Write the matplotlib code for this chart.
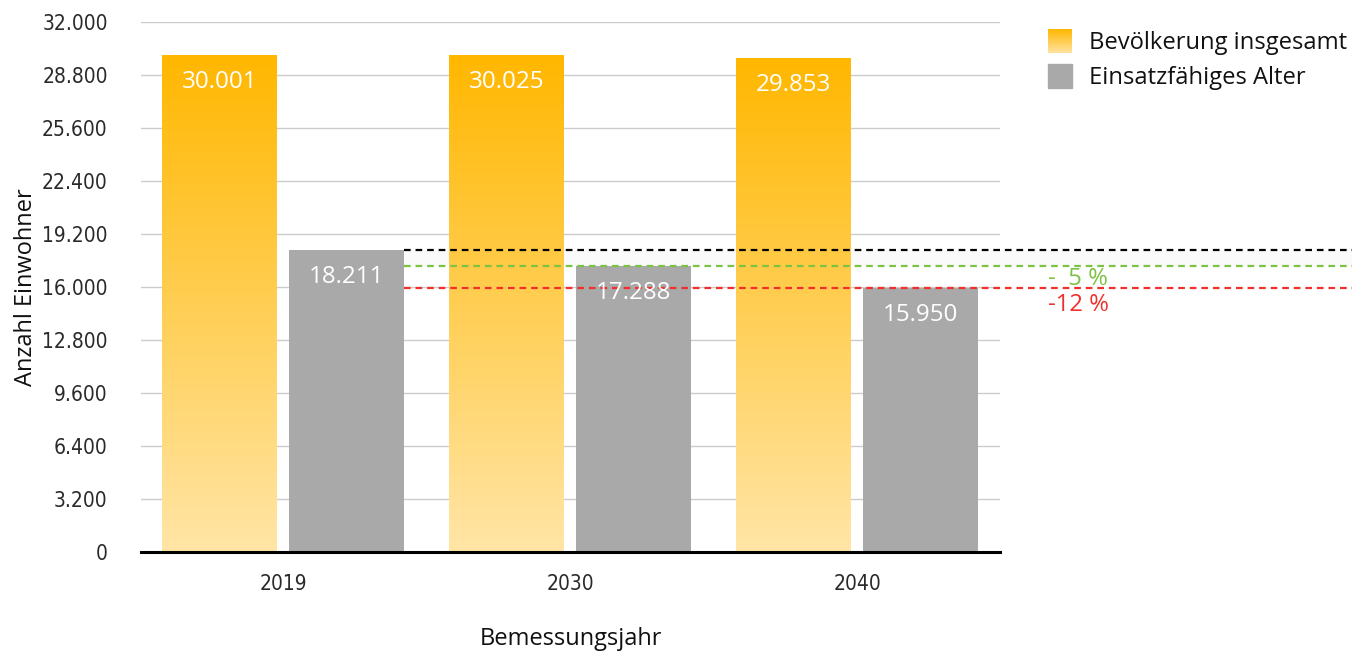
import numpy as np
import matplotlib
matplotlib.use("Agg")
import matplotlib.pyplot as plt
from matplotlib.colors import LinearSegmentedColormap

years = ["2019", "2030", "2040"]
total = [30001, 30025, 29853]
working_age = [18211, 17288, 15950]
y_ticks = [0, 3200, 6400, 9600, 12800, 16000, 19200, 22400, 25600, 28800, 32000]
diff_labels = ["-  5 %", "-12 %"]


def de_num(v):
    return "{:,}".format(v).replace(",", ".")


plt.rcParams['font.family'] = ['Open Sans', 'DejaVu Sans']
tick_font = ['DejaVu Sans']

fig = plt.figure(figsize=(13.52, 6.51), dpi=100)
ax = fig.add_axes([141 / 1352, 0.152, 859 / 1352, 0.814])

x = np.arange(len(years))
w = 0.4
off = 0.221

orange_cmap = LinearSegmentedColormap.from_list("og", ["#FFE5A6", "#FFB700"])
bars_t = ax.bar(x - off, total, w, color="none", zorder=2)
bars_w = ax.bar(x + off, working_age, w, color="#A9A9A9", zorder=2)

grad = np.linspace(0, 1, 256).reshape(-1, 1)
for b in bars_t:
    x0, h = b.get_x(), b.get_height()
    im = ax.imshow(grad, cmap=orange_cmap, origin="lower", aspect="auto",
                   extent=[x0, x0 + w, 0, h], zorder=2)
    im.set_clip_path(b)

for b, v in zip(list(bars_t) + list(bars_w), total + working_age):
    ax.annotate(de_num(v), (b.get_x() + w / 2, v), xytext=(0, -27),
                textcoords="offset pixels",
                ha="center", va="center", color="white", fontsize=17.4, zorder=5)

ax.set_xlim(-0.495, 2.498)
ax.set_ylim(0, 32000)
ax.set_yticks(y_ticks)
ax.set_yticklabels([de_num(t) for t in y_ticks], family=tick_font,
                   fontstretch="condensed", fontsize=15, color="#2A2A2A")
ax.set_xticks(x)
ax.set_xticklabels(years, family=tick_font, fontstretch="condensed",
                   fontsize=15, color="#2A2A2A")
ax.tick_params(length=0)
ax.tick_params(axis="y", pad=24)
ax.tick_params(axis="x", pad=16)
ax.grid(axis="y", color="#CCCCCC", lw=1, zorder=0)
ax.set_axisbelow(True)
for s in ["top", "right", "left"]:
    ax.spines[s].set_visible(False)
ax.spines["bottom"].set_linewidth(2.2)
ax.spines["bottom"].set_zorder(6)

ax.set_ylabel("Anzahl Einwohner", fontsize=17, color="#111111")
ax.yaxis.set_label_coords(-0.1199, 0.5)
ax.set_xlabel("Bemessungsjahr", fontsize=17, color="#111111", va="top")
ax.xaxis.set_label_coords(0.5, -0.1415)

# reference lines from the 2019 working-age bar
x_start = x[0] + off + w / 2
ax.fill_between([x_start, 10], working_age[1], working_age[0], color="#FAFAFA",
                lw=0, zorder=1, clip_on=False)
ax.plot([x_start, 10], [working_age[0]] * 2, color="black", lw=1.6,
        ls=(0, (3, 2.2)), clip_on=False, zorder=4)
ax.plot([x_start, 10], [working_age[1]] * 2, color="#7CC243", lw=1.6,
        ls=(0, (3, 2.2)), clip_on=False, zorder=4)
ax.plot([x_start, 10], [working_age[2]] * 2, color="#F0302C", lw=1.6,
        ls=(0, (3, 2.2)), clip_on=False, zorder=4)

fig.text(1048 / 1352, 1 - 279 / 651, diff_labels[0], color="#7CC243",
         fontsize=17.2, va="center", ha="left")
fig.text(1048 / 1352, 1 - 305 / 651, diff_labels[1], color="#F0302C",
         fontsize=17.2, va="center", ha="left")

# legend
lim = fig.add_axes([1048 / 1352, 1 - 53 / 651, 24 / 1352, 24 / 651])
lim.imshow(grad, cmap=LinearSegmentedColormap.from_list("l", ["#FFE3A0", "#FFB700"]),
           origin="lower", aspect="auto")
lim.axis("off")
fig.patches.append(plt.Rectangle((1048 / 1352, 1 - 88 / 651), 24 / 1352, 24 / 651,
                                 transform=fig.transFigure, color="#A9A9A9"))
fig.text(1089 / 1352, 1 - 43 / 651, "Bevölkerung insgesamt", fontsize=17.1,
         va="center", ha="left", color="#111111")
fig.text(1089 / 1352, 1 - 78 / 651, "Einsatzfähiges Alter", fontsize=17.1,
         va="center", ha="left", color="#111111")

fig.savefig("out.png", dpi=100)
